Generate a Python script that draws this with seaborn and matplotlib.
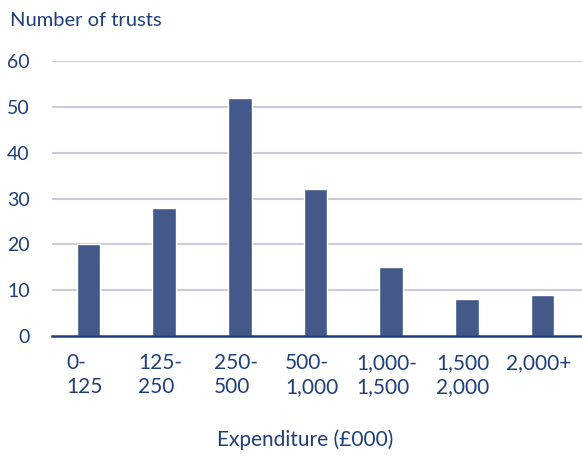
import numpy as np
import pandas as pd
import seaborn as sns
import matplotlib.transforms as mtransforms
from matplotlib import pyplot as plt

# data
categories = ['0-\n125', '125-\n250', '250-\n500', '500-\n1,000', '1,000-\n1,500', '1,500\n2,000', '2,000+\n']
trusts = [20, 28, 52, 32, 15, 8, 9]
yticks = [0, 10, 20, 30, 40, 50, 60]

text_col = '#1c3f7c'
bar_col = '#44598a'
grid_col = '#c9cdd9'

sns.set_style('white')
plt.rcParams['font.family'] = ['Lato', 'DejaVu Sans']

df = pd.DataFrame({'band': categories, 'trusts': trusts})

W, H = 582, 459
fig = plt.figure(figsize=(W / 100, H / 100), dpi=100)
ax = fig.add_axes([52 / W, 1 - 336 / H, 1 - 52 / W, 275 / H])

for t in yticks[1:]:
    ax.axhline(t, color=grid_col, lw=1.5, zorder=0)

sns.barplot(data=df, x='band', y='trusts', color=bar_col, width=0.31,
            saturation=1, ax=ax, zorder=2)

ax.set_ylim(0, 60)
ax.set_xlim(-0.48, 6.52)
ax.set_yticks(yticks)
ax.set_yticklabels([str(t) for t in yticks], fontsize=14, color=text_col)
ax.tick_params(axis='y', length=0, pad=16)
ax.tick_params(axis='x', length=0, pad=12)
ax.set_xlabel('')
ax.set_ylabel('')

shift = mtransforms.ScaledTranslation(-4 / 100, 0, fig.dpi_scale_trans)
for lbl in ax.get_xticklabels():
    lbl.set_fontsize(15)
    lbl.set_color(text_col)
    lbl.set_multialignment('left')
    lbl.set_linespacing(1.25)
    lbl.set_transform(lbl.get_transform() + shift)

for s in ['top', 'right', 'left']:
    ax.spines[s].set_visible(False)
ax.spines['bottom'].set_color(text_col)
ax.spines['bottom'].set_linewidth(1.8)

fig.text(10 / W, 1 - 20 / H, 'Number of trusts', fontsize=14.5, color=text_col,
         ha='left', va='center')
fig.text(305 / W, 1 - 440 / H, 'Expenditure (£000)', fontsize=15, color=text_col,
         ha='center', va='center')

fig.savefig('out.png', dpi=100)
